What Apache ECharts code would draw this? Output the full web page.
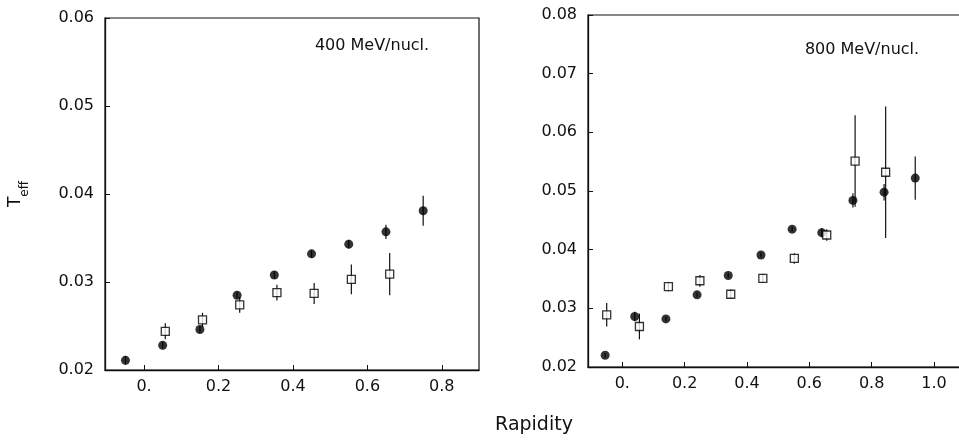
<!DOCTYPE html>
<html>
<head>
<meta charset="utf-8">
<script src="https://cdn.jsdelivr.net/npm/echarts@6/dist/echarts.min.js"></script>
<style>
  html, body { margin: 0; padding: 0; background: #fff; }
  #main { width: 959px; height: 442px; }
</style>
</head>
<body>
<div id="main"></div>
<script>
// 400 MeV/nucl. panel
var leftCircleX = [-0.05, 0.05, 0.15, 0.25, 0.35, 0.45, 0.55, 0.65, 0.75];
var leftCircleY = [0.0211, 0.0228, 0.0246, 0.0285, 0.0308, 0.0332, 0.0343, 0.0357, 0.0381];
var leftCircleErr = [0.0005, 0.0004, 0.0004, 0.0004, 0.0004, 0.0004, 0.0005, 0.0008, 0.0017];
var leftSquareX = [0.057, 0.157, 0.257, 0.357, 0.457, 0.557, 0.66];
var leftSquareY = [0.0244, 0.0257, 0.0274, 0.0288, 0.0287, 0.0303, 0.0309];
var leftSquareErr = [0.0009, 0.0008, 0.0009, 0.0009, 0.0012, 0.0017, 0.0024];

// 800 MeV/nucl. panel
var rightCircleX = [-0.055, 0.04, 0.14, 0.24, 0.34, 0.445, 0.545, 0.64, 0.74, 0.84, 0.94];
var rightCircleY = [0.0220, 0.0286, 0.0282, 0.0323, 0.0356, 0.0391, 0.0435, 0.0429, 0.0484, 0.0498, 0.0522];
var rightCircleErr = [0.0004, 0.0008, 0.0004, 0.0004, 0.0004, 0.0004, 0.0004, 0.0008, 0.0012, 0.0014, 0.0037];
var rightSquareX = [-0.05, 0.055, 0.148, 0.249, 0.348, 0.451, 0.552, 0.656, 0.747, 0.845];
var rightSquareY = [0.0289, 0.0269, 0.0337, 0.0347, 0.0324, 0.0351, 0.0385, 0.0425, 0.0551, 0.0532];
var rightSquareErr = [0.0020, 0.0022, 0.0008, 0.0010, 0.0008, 0.0008, 0.0009, 0.0010, 0.0078, 0.0112];

// tick labels
var leftXTicks = [0, 0.2, 0.4, 0.6, 0.8];
var rightXTicks = [0, 0.2, 0.4, 0.6, 0.8, 1.0];

var font = 'DejaVu Sans';
var ink = '#111';

function pts(xs, ys, es) {
  return xs.map(function (x, i) { return es ? [x, ys[i], es[i]] : [x, ys[i]]; });
}

function errorBars(p, api) {
  var x = api.value(0), y = api.value(1), e = api.value(2);
  var a = api.coord([x, y + e]);
  var b = api.coord([x, y - e]);
  return {
    type: 'line',
    shape: { x1: a[0], y1: a[1], x2: b[0], y2: b[1] },
    style: { stroke: ink, lineWidth: 1.2 }
  };
}

function xAxisOf(idx, min, max, ticks) {
  return {
    type: 'value', gridIndex: idx, min: min, max: max,
    axisLine: { show: true, onZero: false, lineStyle: { color: ink, width: 1.3 } },
    axisTick: { show: true, inside: true, length: 5, customValues: ticks, lineStyle: { color: ink } },
    axisLabel: {
      customValues: ticks, margin: 9, color: ink, fontFamily: font, fontSize: 16,
      formatter: function (v) { return v === 0 ? '0.' : v.toFixed(1); }
    },
    splitLine: { show: false }
  };
}

function yAxisOf(idx, min, max) {
  return {
    type: 'value', gridIndex: idx, min: min, max: max, interval: 0.01,
    axisLine: { show: true, onZero: false, lineStyle: { color: ink, width: 1.3 } },
    axisTick: { show: true, inside: true, length: 5, lineStyle: { color: ink } },
    axisLabel: {
      margin: 11, color: ink, fontFamily: font, fontSize: 16,
      formatter: function (v) { return v.toFixed(2); }
    },
    splitLine: { show: false }
  };
}

var yLeft = yAxisOf(0, 0.02, 0.06);
yLeft.name = '{t|T}{s|eff}';
yLeft.nameLocation = 'middle';
yLeft.nameRotate = 90;
yLeft.nameGap = 74;
yLeft.nameTextStyle = {
  rich: {
    t: { fontFamily: font, fontSize: 17, color: ink, lineHeight: 24, verticalAlign: 'top' },
    s: { fontFamily: font, fontSize: 12, color: ink, lineHeight: 24, verticalAlign: 'bottom' }
  }
};

var myChart = echarts.init(document.getElementById('main'));

var option = {
  backgroundColor: '#fff',
  animation: false,
  grid: [
    { left: 105, top: 18, width: 374, height: 352, show: true, borderColor: ink, borderWidth: 1.2, containLabel: false, outerBoundsMode: 'none' },
    { left: 588, top: 15, width: 374, height: 352, show: true, borderColor: ink, borderWidth: 1.2, containLabel: false, outerBoundsMode: 'none' }
  ],
  xAxis: [
    xAxisOf(0, -0.105, 0.9, leftXTicks),
    xAxisOf(1, -0.11, 1.09, rightXTicks)
  ],
  yAxis: [
    yLeft,
    yAxisOf(1, 0.02, 0.08)
  ],
  graphic: [
    {
      type: 'text', x: 372, y: 46,
      style: { text: '400 MeV/nucl.', fontFamily: font, fontSize: 16, fill: ink, align: 'center', verticalAlign: 'middle' }
    },
    {
      type: 'text', x: 862, y: 50,
      style: { text: '800 MeV/nucl.', fontFamily: font, fontSize: 16, fill: ink, align: 'center', verticalAlign: 'middle' }
    },
    {
      type: 'text', x: 534, y: 425,
      style: { text: 'Rapidity', fontFamily: font, fontSize: 19, fill: ink, align: 'center', verticalAlign: 'middle' }
    }
  ],
  series: [
    { type: 'custom', xAxisIndex: 0, yAxisIndex: 0, renderItem: errorBars, encode: { x: 0, y: 1 }, data: pts(leftCircleX, leftCircleY, leftCircleErr), z: 1 },
    { type: 'custom', xAxisIndex: 0, yAxisIndex: 0, renderItem: errorBars, encode: { x: 0, y: 1 }, data: pts(leftSquareX, leftSquareY, leftSquareErr), z: 1 },
    { type: 'scatter', xAxisIndex: 0, yAxisIndex: 0, symbol: 'circle', symbolSize: 9, itemStyle: { color: '#000' }, data: pts(leftCircleX, leftCircleY), z: 3 },
    { type: 'scatter', xAxisIndex: 0, yAxisIndex: 0, symbol: 'rect', symbolSize: 8, itemStyle: { color: '#fff', borderColor: '#000', borderWidth: 1.3 }, data: pts(leftSquareX, leftSquareY), z: 3 },

    { type: 'custom', xAxisIndex: 1, yAxisIndex: 1, renderItem: errorBars, encode: { x: 0, y: 1 }, data: pts(rightCircleX, rightCircleY, rightCircleErr), z: 1 },
    { type: 'custom', xAxisIndex: 1, yAxisIndex: 1, renderItem: errorBars, encode: { x: 0, y: 1 }, data: pts(rightSquareX, rightSquareY, rightSquareErr), z: 1 },
    { type: 'scatter', xAxisIndex: 1, yAxisIndex: 1, symbol: 'circle', symbolSize: 9, itemStyle: { color: '#000' }, data: pts(rightCircleX, rightCircleY), z: 3 },
    { type: 'scatter', xAxisIndex: 1, yAxisIndex: 1, symbol: 'rect', symbolSize: 8, itemStyle: { color: '#fff', borderColor: '#000', borderWidth: 1.3 }, data: pts(rightSquareX, rightSquareY), z: 3 }
  ]
};

myChart.setOption(option);
window.addEventListener('resize', function () {
  myChart.resize();
});
</script>
</body>
</html>
